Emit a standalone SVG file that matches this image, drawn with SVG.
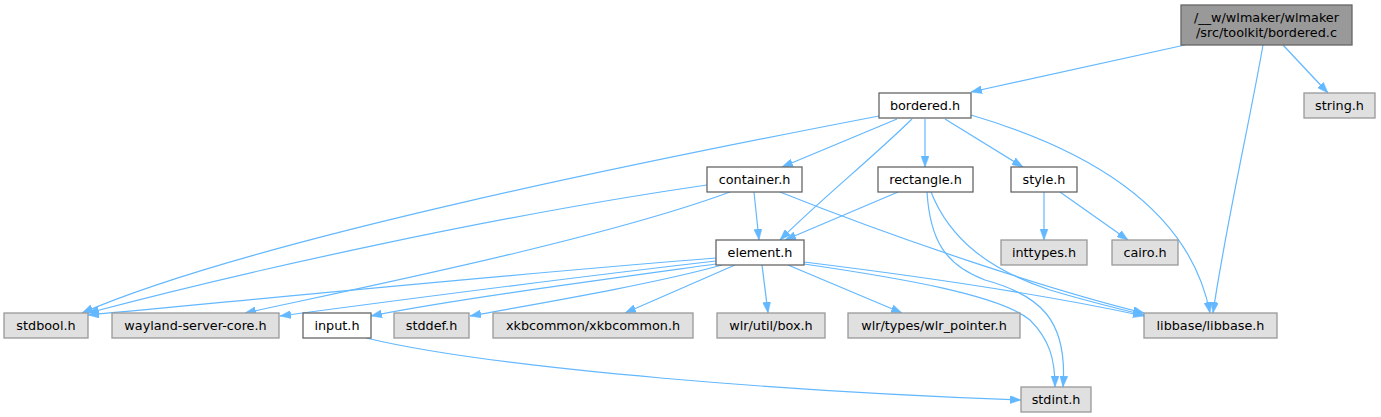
<svg xmlns="http://www.w3.org/2000/svg" width="1381" height="417" viewBox="0 0 1381 417">
<style>
text{font-family:"DejaVu Sans","Liberation Sans",sans-serif;font-size:12.8px;fill:#000;text-anchor:middle}
.w{fill:#ffffff;stroke:#666666;stroke-width:1.3}
.g{fill:#e0e0e0;stroke:#999999;stroke-width:1.3}
.r{fill:#999999;stroke:#666666;stroke-width:1.3}
.e{fill:none;stroke:#63b8ff;stroke-width:1.2;marker-end:url(#arr)}
</style>
<defs>
<marker id="arr" viewBox="0 0 11 8" refX="11" refY="4" markerWidth="11" markerHeight="8" orient="auto" markerUnits="userSpaceOnUse">
<path d="M0,0 L11,4 L0,8 z" fill="#63b8ff" stroke="#63b8ff" stroke-width="0.5"/>
</marker>
</defs>
<rect width="1381" height="417" fill="#ffffff"/>
<g id="edges">
<path class="e" d="M1185,45 L971,92"/>
<path class="e" d="M1283,45 L1328,93"/>
<path class="e" d="M1263,45 C1250,120 1225,230 1213,313"/>
<path class="e" d="M879,116 C650,160 250,240 82,313"/>
<path class="e" d="M897,119 L782,167"/>
<path class="e" d="M912,119 C870,160 820,200 780,240"/>
<path class="e" d="M925,119 L925,167"/>
<path class="e" d="M945,119 L1023,167"/>
<path class="e" d="M971,115 C1090,150 1190,210 1210,313"/>
<path class="e" d="M707,185 C500,215 250,270 88,313"/>
<path class="e" d="M730,192 C600,240 350,290 245,313"/>
<path class="e" d="M754,192 L759,240"/>
<path class="e" d="M780,192 C900,240 1050,290 1144,313"/>
<path class="e" d="M898,192 L785,240"/>
<path class="e" d="M927,192 C930,240 945,265 985,280 C1040,295 1068,320 1063,387"/>
<path class="e" d="M931,192 C950,240 990,270 1050,290 C1090,302 1120,309 1144,315"/>
<path class="e" d="M1044,192 L1044,240"/>
<path class="e" d="M1060,192 L1128,240"/>
<path class="e" d="M716,258 C500,275 250,300 88,315"/>
<path class="e" d="M716,261 C550,280 400,300 280,316"/>
<path class="e" d="M716,264 C600,280 450,300 371,316"/>
<path class="e" d="M722,265 C650,285 530,305 470,316"/>
<path class="e" d="M735,265 L625,313"/>
<path class="e" d="M762,265 L768,313"/>
<path class="e" d="M788,265 L902,313"/>
<path class="e" d="M804,262 C950,280 1070,300 1144,316"/>
<path class="e" d="M804,264 C900,278 1000,295 1030,320 C1050,340 1055,360 1055,387"/>
<path class="e" d="M366,338 C500,370 800,392 1021,400"/>
</g>
<g id="n_bordered_c"><rect class="r" x="1181" y="5" width="171" height="40"/><text x="1266.5" y="22">/__w/wlmaker/wlmaker</text><text x="1266.5" y="37">/src/toolkit/bordered.c</text></g>
<g id="n_bordered_h"><rect class="w" x="879" y="93" width="92" height="25"/><text x="925" y="110">bordered.h</text></g>
<g id="n_string_h"><rect class="g" x="1304" y="93" width="71" height="25"/><text x="1339.5" y="110">string.h</text></g>
<g id="n_container_h"><rect class="w" x="707" y="167" width="95" height="25"/><text x="754.5" y="184">container.h</text></g>
<g id="n_rectangle_h"><rect class="w" x="878" y="167" width="95" height="25"/><text x="925.5" y="184">rectangle.h</text></g>
<g id="n_style_h"><rect class="w" x="1011" y="167" width="66" height="25"/><text x="1044" y="184">style.h</text></g>
<g id="n_element_h"><rect class="w" x="716" y="240" width="88" height="25"/><text x="760" y="257">element.h</text></g>
<g id="n_inttypes_h"><rect class="g" x="1001" y="240" width="86" height="25"/><text x="1044" y="257">inttypes.h</text></g>
<g id="n_cairo_h"><rect class="g" x="1112" y="240" width="66" height="25"/><text x="1145" y="257">cairo.h</text></g>
<g id="n_stdbool_h"><rect class="g" x="4" y="313" width="84" height="25"/><text x="46" y="330">stdbool.h</text></g>
<g id="n_wayland"><rect class="g" x="112" y="313" width="167" height="25"/><text x="195.5" y="330">wayland-server-core.h</text></g>
<g id="n_input_h"><rect class="w" x="303" y="313" width="68" height="25"/><text x="337" y="330">input.h</text></g>
<g id="n_stddef_h"><rect class="g" x="394" y="313" width="75" height="25"/><text x="431.5" y="330">stddef.h</text></g>
<g id="n_xkbcommon"><rect class="g" x="493" y="313" width="200" height="25"/><text x="593" y="330">xkbcommon/xkbcommon.h</text></g>
<g id="n_box"><rect class="g" x="717" y="313" width="108" height="25"/><text x="771" y="330">wlr/util/box.h</text></g>
<g id="n_pointer"><rect class="g" x="848" y="313" width="172" height="25"/><text x="934" y="330">wlr/types/wlr_pointer.h</text></g>
<g id="n_libbase"><rect class="g" x="1144" y="313" width="133" height="25"/><text x="1210.5" y="330">libbase/libbase.h</text></g>
<g id="n_stdint"><rect class="g" x="1021" y="387" width="70" height="25"/><text x="1056" y="404">stdint.h</text></g>
</svg>
